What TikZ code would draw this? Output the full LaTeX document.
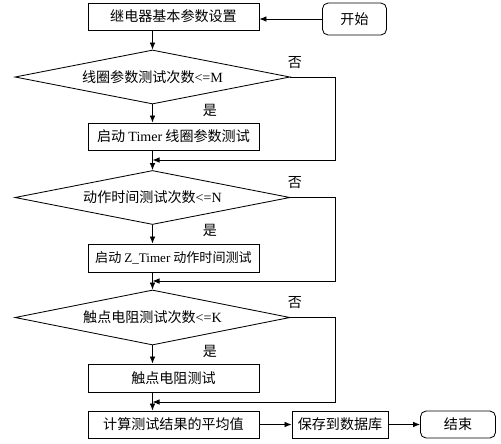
\documentclass[tikz,border=0pt]{standalone}
\usepackage{fontspec}
\usetikzlibrary{shapes.geometric,arrows.meta}
\newfontfamily\cjk{Noto Sans CJK SC}
\newfontfamily\lat{Liberation Serif}

\begin{document}
\begin{tikzpicture}[
      x=0.025cm, y=-0.025cm,
      every node/.style={font=\cjk\fontsize{10}{12}\selectfont},
      box/.style={draw, line width=0.6pt, minimum width=4.275cm, minimum height=0.675cm, inner sep=0pt},
      ends/.style={draw, line width=0.6pt, rounded corners=4pt, minimum height=0.675cm, inner sep=0pt},
      test/.style={draw, line width=0.6pt, diamond, aspect=5.1, minimum width=6.875cm, minimum height=1.35cm, inner sep=0pt},
      lbl/.style={inner sep=0pt},
      arrow/.style={-{Latex[length=5pt,width=4pt]}, line width=0.6pt}
    ]
    \useasboundingbox (0,0) rectangle (501,443);

    \node[box] (setup) at (173.5,16.5) {继电器基本参数设置};
    \node[ends, minimum width=1.6cm, minimum height=0.8cm] (start) at (354.5,19) {开始};
    \node[test] (coil) at (152.5,77) {线圈参数测试次数{\lat <=M}};
    \node[box] (timer) at (173.5,136.5) {启动 {\lat Timer} 线圈参数测试};
    \node[test] (act) at (152.5,197.5) {动作时间测试次数{\lat <=N}};
    \node[box, minimum height=0.7cm, font=\cjk\fontsize{9.3}{11}\selectfont] (ztimer) at (173.5,258) {启动 {\lat Z\_Timer} 动作时间测试};
    \node[test, minimum height=1.375cm] (cont) at (152.5,317.5) {触点电阻测试次数{\lat <=K}};
    \node[box, minimum height=0.7cm] (res) at (173.5,378) {触点电阻测试};
    \node[box] (avg) at (173.5,424.5) {计算测试结果的平均值};
    \node[box, minimum width=2.4cm] (save) at (340,424.5) {保存到数据库};
    \node[ends, minimum width=1.875cm] (end) at (458,424.5) {结束};

    % yes / no labels
    \node[lbl] (no1) at (295,63) {否};
    \node[lbl] (yes1) at (210,110) {是};
    \node[lbl] (no2) at (295,183) {否};
    \node[lbl] (yes2) at (210,230) {是};
    \node[lbl] (no3) at (295,303) {否};
    \node[lbl] (yes3) at (210,351) {是};

    % join points of the loops
    \coordinate (j1) at (152.5,160);
    \coordinate (j2) at (152.5,281);
    \coordinate (j3) at (152.5,402);

    \draw[arrow] (start.west) -- (start.west -| setup.east);
    \draw[arrow] (coil.north |- setup.south) -- (coil.north);
    \draw[arrow] (coil.south) -- (coil.south |- timer.north);
    \draw[arrow] (act.north |- timer.south) -- (act.north);
    \draw[arrow] (coil.east) -- ++(45,0) |- (j1);
    \draw[arrow] (act.south) -- (act.south |- ztimer.north);
    \draw[arrow] (cont.north |- ztimer.south) -- (cont.north);
    \draw[arrow] (act.east) -- ++(45,0) |- (j2);
    \draw[arrow] (cont.south) -- (cont.south |- res.north);
    \draw[arrow] (cont.south |- res.south) -- (cont.south |- avg.north);
    \draw[arrow] (cont.east) -- ++(45,0) |- (j3);
    \draw[arrow] (avg.east) -- (save.west);
    \draw[arrow] (save.east) -- (end.west);
  \end{tikzpicture}
\end{document}
